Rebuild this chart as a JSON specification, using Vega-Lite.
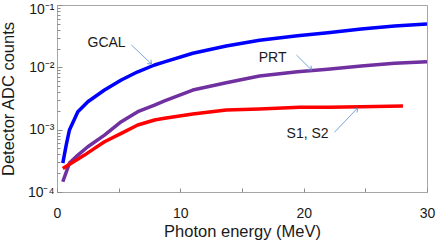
{
  "$schema": "https://vega.github.io/schema/vega-lite/v6.json",
  "width": 370,
  "height": 187,
  "autosize": {"type": "none"},
  "padding": {"left": 57, "top": 5, "right": 9, "bottom": 54},
  "background": "white",
  "config": {
    "view": {"stroke": "#a6a6a6", "strokeWidth": 1},
    "font": "Liberation Sans",
    "axis": {
      "grid": false,
      "domain": false,
      "tickColor": "#8c8c8c",
      "labelColor": "#1a1a1a",
      "titleColor": "#1a1a1a",
      "labelFont": "Liberation Sans",
      "titleFont": "Liberation Sans",
      "labelFontSize": 14,
      "titleFontSize": 16.5,
      "titleFontWeight": "normal"
    }
  },
  "datasets": {
    "curves": [
      {"series": "GCAL", "E": 0.47, "v": 0.00029},
      {"series": "GCAL", "E": 0.75, "v": 0.00057},
      {"series": "GCAL", "E": 1.01, "v": 0.00099},
      {"series": "GCAL", "E": 1.69, "v": 0.00194},
      {"series": "GCAL", "E": 2.5, "v": 0.00281},
      {"series": "GCAL", "E": 3.85, "v": 0.00432},
      {"series": "GCAL", "E": 5.21, "v": 0.00625},
      {"series": "GCAL", "E": 6.55, "v": 0.00849},
      {"series": "GCAL", "E": 7.91, "v": 0.0109},
      {"series": "GCAL", "E": 8.72, "v": 0.0122},
      {"series": "GCAL", "E": 11.01, "v": 0.0168},
      {"series": "GCAL", "E": 13.72, "v": 0.022},
      {"series": "GCAL", "E": 16.42, "v": 0.0272},
      {"series": "GCAL", "E": 19.5, "v": 0.032},
      {"series": "GCAL", "E": 21.96, "v": 0.0359},
      {"series": "GCAL", "E": 24.67, "v": 0.0412},
      {"series": "GCAL", "E": 27.37, "v": 0.046},
      {"series": "GCAL", "E": 30.0, "v": 0.0495},
      {"series": "PRT", "E": 0.47, "v": 0.000146},
      {"series": "PRT", "E": 1.01, "v": 0.000291},
      {"series": "PRT", "E": 1.69, "v": 0.000391},
      {"series": "PRT", "E": 2.5, "v": 0.000532},
      {"series": "PRT", "E": 3.85, "v": 0.000819},
      {"series": "PRT", "E": 5.21, "v": 0.00134},
      {"series": "PRT", "E": 6.55, "v": 0.00194},
      {"series": "PRT", "E": 7.91, "v": 0.00248},
      {"series": "PRT", "E": 8.72, "v": 0.0029},
      {"series": "PRT", "E": 11.01, "v": 0.00432},
      {"series": "PRT", "E": 13.72, "v": 0.00566},
      {"series": "PRT", "E": 16.42, "v": 0.00725},
      {"series": "PRT", "E": 19.5, "v": 0.0085},
      {"series": "PRT", "E": 21.96, "v": 0.00929},
      {"series": "PRT", "E": 24.67, "v": 0.0105},
      {"series": "PRT", "E": 27.37, "v": 0.0116},
      {"series": "PRT", "E": 30.0, "v": 0.0123},
      {"series": "S1, S2", "E": 0.47, "v": 0.000239},
      {"series": "S1, S2", "E": 1.15, "v": 0.000288},
      {"series": "S1, S2", "E": 2.23, "v": 0.000391},
      {"series": "S1, S2", "E": 3.04, "v": 0.000501},
      {"series": "S1, S2", "E": 3.85, "v": 0.00064},
      {"series": "S1, S2", "E": 5.21, "v": 0.000873},
      {"series": "S1, S2", "E": 6.55, "v": 0.00119},
      {"series": "S1, S2", "E": 7.91, "v": 0.00143},
      {"series": "S1, S2", "E": 8.72, "v": 0.00152},
      {"series": "S1, S2", "E": 11.01, "v": 0.00178},
      {"series": "S1, S2", "E": 13.72, "v": 0.00206},
      {"series": "S1, S2", "E": 16.42, "v": 0.00214},
      {"series": "S1, S2", "E": 19.66, "v": 0.00228},
      {"series": "S1, S2", "E": 21.96, "v": 0.00228},
      {"series": "S1, S2", "E": 24.67, "v": 0.00233},
      {"series": "S1, S2", "E": 28.05, "v": 0.00239}
    ],
    "labels": [
      {"label": "GCAL", "E": 4.02, "v": 0.0245, "E0": 6.04, "v0": 0.0228, "E1": 7.66, "v1": 0.0113},
      {"label": "PRT", "E": 17.48, "v": 0.0141, "E0": 19.42, "v0": 0.01574, "E1": 20.64, "v1": 0.00906},
      {"label": "S1, S2", "E": 20.32, "v": 0.00085, "E0": 22.5, "v0": 0.00091, "E1": 24.37, "v1": 0.00222}
    ]
  },
  "layer": [
    {
      "data": {"name": "curves"},
      "mark": {"type": "line", "strokeWidth": 3.5, "strokeJoin": "round", "strokeCap": "butt", "clip": true},
      "encoding": {
        "x": {
          "field": "E", "type": "quantitative",
          "scale": {"domain": [0, 30], "nice": false, "zero": false},
          "axis": {
            "title": "Photon energy (MeV)",
            "values": [0, 5, 10, 15, 20, 25, 30],
            "labelExpr": "datum.value % 10 == 0 ? datum.label : ''",
            "labelFlush": false,
            "labelOverlap": false,
            "tickSize": -4,
            "labelPadding": 18,
            "titlePadding": 3
          }
        },
        "y": {
          "field": "v", "type": "quantitative",
          "scale": {"type": "log", "domain": [0.0001, 0.1], "nice": false},
          "axis": {
            "title": "Detector ADC counts",
            "values": [0.0001, 0.0002, 0.0003, 0.0004, 0.0005, 0.0006, 0.0007, 0.0008, 0.0009, 0.001, 0.002, 0.003, 0.004, 0.005, 0.006, 0.007, 0.008, 0.009, 0.01, 0.02, 0.03, 0.04, 0.05, 0.06, 0.07, 0.08, 0.09, 0.1],
            "labelExpr": "datum.value < 0.00015 ? '10⁻⁴' : (abs(datum.value - 0.001) < 0.0001 ? '10⁻³' : (abs(datum.value - 0.01) < 0.001 ? '10⁻²' : (abs(datum.value - 0.1) < 0.01 ? '10⁻¹' : '')))",
            "labelOverlap": false,
            "labelOffset": {"condition": {"test": "datum.value > 0.05", "value": 4}, "value": 0},
            "tickSize": {"condition": {"test": "abs(log(datum.value)/LN10 - round(log(datum.value)/LN10)) < 0.01", "value": -5}, "value": -3},
            "labelPadding": 8,
            "titlePadding": 11
          }
        },
        "color": {
          "field": "series", "type": "nominal",
          "scale": {"domain": ["GCAL", "PRT", "S1, S2"], "range": ["#0000ff", "#7030a0", "#ff0000"]},
          "legend": null
        }
      }
    },
    {
      "data": {"name": "labels"},
      "mark": {"type": "rule", "color": "#5b8bd0", "strokeWidth": 0.8},
      "encoding": {
        "x": {"field": "E0", "type": "quantitative"},
        "y": {"field": "v0", "type": "quantitative"},
        "x2": {"field": "E1"},
        "y2": {"field": "v1"}
      }
    },
    {
      "data": {"name": "labels"},
      "transform": [{"filter": "datum.label != 'S1, S2'"}],
      "mark": {"type": "point", "shape": "M-1,-0.8L0,0L-1,0.8", "filled": false, "stroke": "#5b8bd0", "strokeWidth": 0.8, "size": 45, "angle": 44, "opacity": 1},
      "encoding": {
        "x": {"field": "E1", "type": "quantitative"},
        "y": {"field": "v1", "type": "quantitative"}
      }
    },
    {
      "data": {"name": "labels"},
      "transform": [{"filter": "datum.label == 'S1, S2'"}],
      "mark": {"type": "point", "shape": "M-1,-0.8L0,0L-1,0.8", "filled": false, "stroke": "#5b8bd0", "strokeWidth": 0.8, "size": 45, "angle": 314, "opacity": 1},
      "encoding": {
        "x": {"field": "E1", "type": "quantitative"},
        "y": {"field": "v1", "type": "quantitative"}
      }
    },
    {
      "data": {"name": "labels"},
      "mark": {"type": "text", "font": "Liberation Sans", "fontSize": 14, "color": "#1a1a1a", "align": "center", "baseline": "middle"},
      "encoding": {
        "x": {"field": "E", "type": "quantitative"},
        "y": {"field": "v", "type": "quantitative"},
        "text": {"field": "label"}
      }
    }
  ]
}
